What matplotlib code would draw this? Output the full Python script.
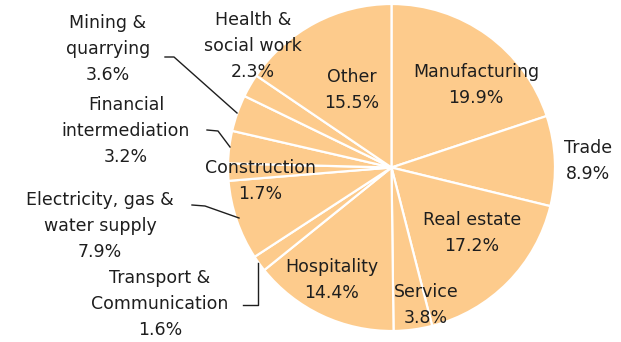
import matplotlib
matplotlib.use("Agg")
import matplotlib.pyplot as plt

# Data
sectors = ["Manufacturing", "Trade", "Real estate", "Service", "Hospitality",
           "Transport &\nCommunication", "Electricity, gas &\nwater supply",
           "Construction", "Financial\nintermediation", "Mining &\nquarrying",
           "Health &\nsocial work", "Other"]
shares = [19.9, 8.9, 17.2, 3.8, 14.4, 1.6, 7.9, 1.7, 3.2, 3.6, 2.3, 15.5]

W, H = 621, 342
plt.rcParams['font.family'] = ['DejaVu Sans']

fig = plt.figure(figsize=(W / 100, H / 100), dpi=100)
ax = fig.add_axes([0, 0, 1, 1])

FILL = "#FDCB8C"
TXT = "#1e1e1e"
cx, cy, r = 391.5, H - 167.5, 163.5

ax.pie(shares, startangle=90, counterclock=False, center=(cx, cy), radius=r,
       colors=[FILL] * len(shares),
       wedgeprops=dict(edgecolor="white", linewidth=1.6))
ax.set_xlim(0, W)
ax.set_ylim(0, H)
ax.set_aspect('equal')
ax.axis('off')

# label layout (pixel coords, y from top): (x, y of first line)
label_pos = {
    "Manufacturing": (476, 72),
    "Trade": (588, 148),
    "Real estate": (472, 220),
    "Service": (426, 292),
    "Hospitality": (332, 267),
    "Transport &\nCommunication": (160, 278),
    "Electricity, gas &\nwater supply": (100, 200),
    "Construction": (260, 168),
    "Financial\nintermediation": (126, 105),
    "Mining &\nquarrying": (108, 23),
    "Health &\nsocial work": (253, 20),
    "Other": (352, 77),
}
LS = 26
for name, val in zip(sectors, shares):
    x, y = label_pos[name]
    lines = name.split("\n") + [f"{val}%"]
    for i, ln in enumerate(lines):
        ax.text(x, H - (y + i * LS), ln, ha="center", va="center",
                fontsize=12.5, color=TXT)

# leader lines (pixel coords, y from top)
leaders = [
    [(165, 57), (174, 57), (237, 113)],
    [(207, 130), (218, 131), (230, 147)],
    [(192, 205), (205, 206), (239, 218)],
    [(243, 305), (258, 305), (258, 263)],
]
for pts in leaders:
    ax.plot([p[0] for p in pts], [H - p[1] for p in pts], color="#1e1e1e", lw=1.0)

fig.savefig("out.png", dpi=100)
